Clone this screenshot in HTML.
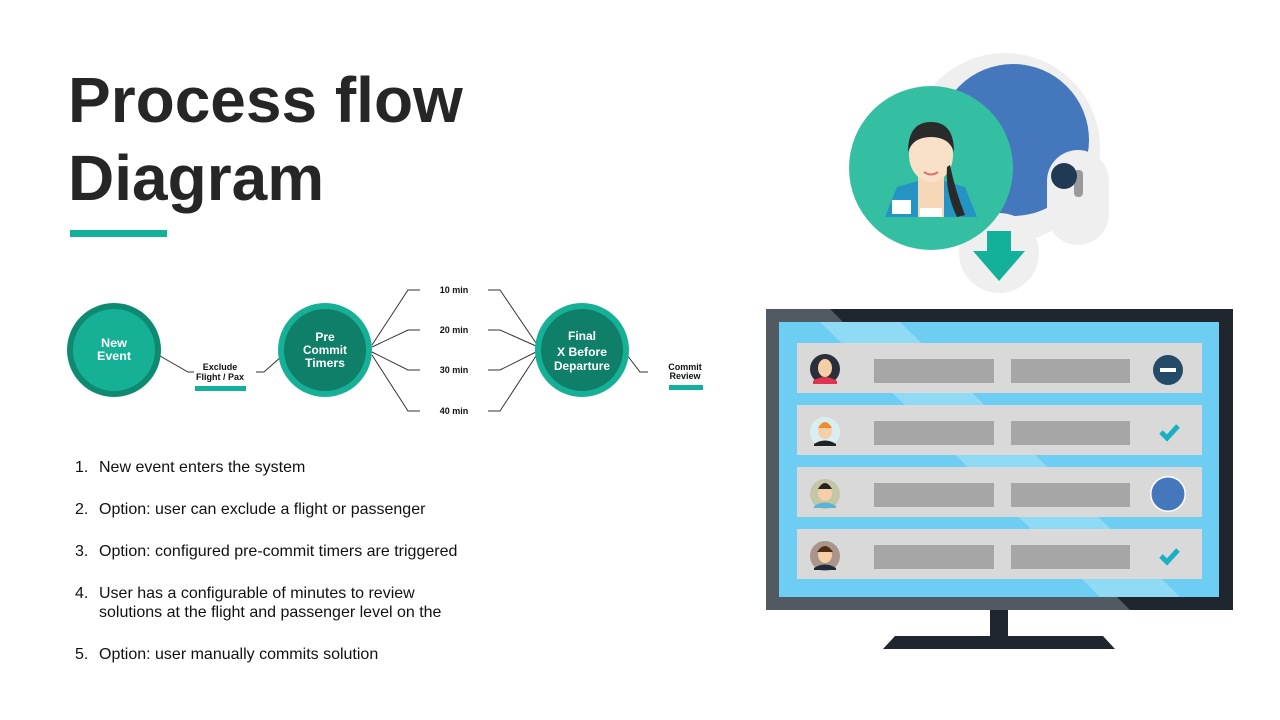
<!DOCTYPE html>
<html><head><style>
body{margin:0;width:1280px;height:720px;background:#fff;overflow:hidden;font-family:"Liberation Sans",Arial,sans-serif}
svg{position:absolute;left:0;top:0}
</style></head><body>
<svg width="1280" height="720" viewBox="0 0 1280 720" font-family="Liberation Sans, Arial, sans-serif">
<text x="68" y="122" font-size="64" font-weight="bold" fill="#262626">Process flow</text>
<text x="68" y="200" font-size="64" font-weight="bold" fill="#262626">Diagram</text>
<rect x="70" y="230" width="97" height="7" fill="#13b09a"/>

<g stroke="#333" stroke-width="1" fill="none">
<polyline points="160,356 188,372 194,372"/>
<polyline points="256,372 264,372 282,356"/>
<polyline points="372,345 408,290 420,290"/>
<polyline points="372,347 408,330 420,330"/>
<polyline points="372,352 408,370 420,370"/>
<polyline points="372,355 408,411 420,411"/>
<polyline points="488,290 500,290 536,343"/>
<polyline points="488,330 500,330 536,346"/>
<polyline points="488,370 500,370 536,352"/>
<polyline points="488,411 500,411 536,356"/>
<polyline points="627,355 640,372 648,372"/>
</g>
<circle cx="114" cy="350" r="47" fill="#0e8a70"/>
<circle cx="114" cy="350" r="41" fill="#15b096"/>
<circle cx="325" cy="350" r="47" fill="#15b096"/>
<circle cx="325" cy="350" r="41" fill="#0f7f6a"/>
<circle cx="582" cy="350" r="47" fill="#15b096"/>
<circle cx="582" cy="350" r="41" fill="#0f7f6a"/>
<g fill="#fff" font-weight="bold" font-size="12" text-anchor="middle">
<text x="114" y="347" textLength="26" lengthAdjust="spacingAndGlyphs">New</text><text x="114" y="360" textLength="34" lengthAdjust="spacingAndGlyphs">Event</text>
<text x="325" y="341">Pre</text><text x="325" y="354" textLength="44" lengthAdjust="spacingAndGlyphs">Commit</text><text x="325" y="367" textLength="40" lengthAdjust="spacingAndGlyphs">Timers</text>
<text x="582" y="340">Final</text><text x="582" y="356" textLength="50" lengthAdjust="spacingAndGlyphs">X Before</text><text x="582" y="370" textLength="56" lengthAdjust="spacingAndGlyphs">Departure</text>
</g>
<g fill="#111" font-weight="bold" font-size="9" text-anchor="middle">
<text x="220" y="370">Exclude</text><text x="220" y="380">Flight / Pax</text>
<text x="685" y="370">Commit</text><text x="685" y="379">Review</text>
<text x="454" y="293">10 min</text><text x="454" y="333">20 min</text>
<text x="454" y="373">30 min</text><text x="454" y="414">40 min</text>
</g>
<rect x="195" y="386" width="51" height="5" fill="#13b09a"/>
<rect x="669" y="385" width="34" height="5" fill="#13b09a"/>

<g font-size="16" fill="#111">
<text x="75" y="472">1.</text><text x="99" y="472">New event enters the system</text>
<text x="75" y="514">2.</text><text x="99" y="514">Option: user can exclude a flight or passenger</text>
<text x="75" y="556">3.</text><text x="99" y="556">Option: configured pre-commit timers are triggered</text>
<text x="75" y="598">4.</text><text x="99" y="598">User has a configurable of minutes to review</text>
<text x="99" y="617">solutions at the flight and passenger level on the</text>
<text x="75" y="659">5.</text><text x="99" y="659">Option: user manually commits solution</text>
</g>

<circle cx="1005" cy="148" r="95" fill="#efefef"/>
<circle cx="1013" cy="140" r="76" fill="#4577bd"/>
<rect x="1047" y="150" width="62" height="95" rx="31" fill="#efefef"/>
<rect x="1074" y="170" width="9" height="27" rx="4" fill="#9a9a9a"/>
<circle cx="1064" cy="176" r="13" fill="#1f3a52"/>
<circle cx="999" cy="253" r="40" fill="#efefef"/>
<circle cx="931" cy="168" r="82" fill="#34bfa3"/>
<path d="M987,231 h24 v20 h14 l-26,30 l-26,-30 h14z" fill="#13b09a"/>
<path d="M885,217 l12,-30 l28,-8 h12 l28,8 l12,30z" fill="#2394c4"/>
<rect x="918" y="172" width="26" height="45" fill="#f6d7b8"/>
<rect x="920" y="208" width="22" height="9" fill="#fff"/>
<ellipse cx="931" cy="155" rx="22" ry="27" fill="#f9e1c8"/>
<path d="M908,152 q0,-30 23,-30 q23,0 23,30 q-5,-15 -23,-15 q-18,0 -23,15z" fill="#2a2a2a"/>
<path d="M950,165 q5,25 15,50 l-8,2 q-12,-25 -10,-50z" fill="#2a2a2a"/>
<rect x="892" y="200" width="19" height="14" fill="#fff"/>
<path d="M924,172 q7,5 14,0" stroke="#e27070" stroke-width="2" fill="none"/>

<rect x="766" y="309" width="467" height="301" fill="#525a61"/>
<polygon points="900,309 1233,309 1233,610 1130,610 830,309" fill="#1f262d"/>
<rect x="779" y="322" width="440" height="275" fill="#6dcdf2"/>
<polygon points="820,322 900,322 1180,597 1100,597" fill="#8fdaf5"/>
<rect x="990" y="610" width="18" height="27" fill="#1f262d"/>
<polygon points="895,636 1103,636 1115,649 883,649" fill="#1f262d"/>
<g fill="#d9d9d9">
<rect x="797" y="343" width="405" height="50"/>
<rect x="797" y="405" width="405" height="50"/>
<rect x="797" y="467" width="405" height="50"/>
<rect x="797" y="529" width="405" height="50"/>
</g>
<g fill="#a6a6a6">
<rect x="874" y="359" width="120" height="24"/><rect x="1011" y="359" width="119" height="24"/>
<rect x="874" y="421" width="120" height="24"/><rect x="1011" y="421" width="119" height="24"/>
<rect x="874" y="483" width="120" height="24"/><rect x="1011" y="483" width="119" height="24"/>
<rect x="874" y="545" width="120" height="24"/><rect x="1011" y="545" width="119" height="24"/>
</g>
<circle cx="825" cy="369" r="15" fill="#2a2f3a"/><ellipse cx="825" cy="368" rx="7" ry="9" fill="#f5cfa8"/><path d="M813,381 q12,-8 24,0 v3 h-24z" fill="#e0334f"/>
<circle cx="825" cy="432" r="15" fill="#d8eef0"/><ellipse cx="825" cy="431" rx="7" ry="8" fill="#f5cfa8"/><path d="M818,428 q7,-12 14,0z" fill="#f08a2a"/><path d="M814,444 q11,-7 22,0 v2 h-22z" fill="#222"/>
<circle cx="825" cy="494" r="15" fill="#c5c6a6"/><ellipse cx="825" cy="493" rx="7" ry="8" fill="#f5cfa8"/><path d="M818,489 q7,-12 14,0z" fill="#222"/><path d="M814,506 q11,-7 22,0 v2 h-22z" fill="#5bb4d6"/>
<circle cx="825" cy="556" r="15" fill="#a9958a"/><ellipse cx="825" cy="555" rx="7" ry="8" fill="#f5cfa8"/><path d="M817,552 q8,-12 16,0z" fill="#4a2e1a"/><path d="M814,568 q11,-7 22,0 v2 h-22z" fill="#1f2a3a"/>
<circle cx="1168" cy="370" r="15" fill="#234a66"/><rect x="1160" y="368" width="16" height="4" fill="#fff"/>
<polyline points="1161,432 1167,438 1178,426" stroke="#1ab0c4" stroke-width="5" fill="none"/>
<circle cx="1168" cy="494" r="18" fill="#fff"/><circle cx="1168" cy="494" r="16.5" fill="#4577bd"/>
<polyline points="1161,556 1167,562 1178,550" stroke="#1ab0c4" stroke-width="5" fill="none"/>
</svg>
</body></html>
